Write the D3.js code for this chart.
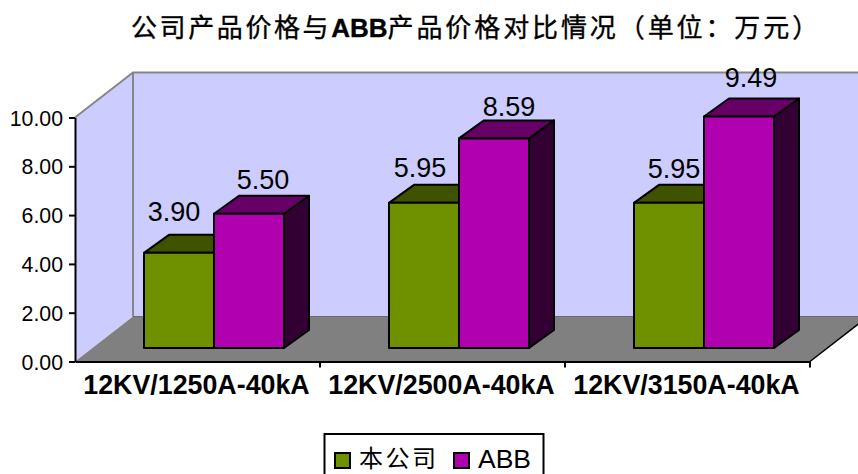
<!DOCTYPE html>
<html><head><meta charset="utf-8">
<script src="https://cdn.jsdelivr.net/npm/d3@7/dist/d3.min.js"></script>
<style>html,body{margin:0;padding:0;background:#fff}svg{display:block}</style>
</head><body><svg id="c" width="858" height="474"></svg>
<script>
const categories=["12KV/1250A-40kA","12KV/2500A-40kA","12KV/3150A-40kA"];
const seriesNames=["本公司","ABB"];
const ours=[3.90,5.95,5.95];
const abb=[5.50,8.59,9.49];
const yTicks=[0,2,4,6,8,10];
const colors=["#6f9100","#b000b0"];
const topColors=["#3f5200","#660066"];
const sideColors=["#2a3600","#330033"];

const svg=d3.select("#c");
const sans="'Liberation Sans',Arial,sans-serif";
const cjk="'Noto Sans CJK SC',sans-serif";
const y=d3.scaleLinear().domain([0,10]).range([361.5,117.5]);
const x=d3.scaleBand().domain(categories).range([75,810]);
const depth={dx:58,dy:-45};
const barDepth={dx:25,dy:-18};
const barLift=13.5, barInset=69, barW=70;
const line=p=>"M"+p.map(q=>q.join(",")).join("L")+"Z";

const xL=x.range()[0],xR=x.range()[1],y0=y(0),yT=y(10);
svg.append("path").attr("d",line([[xL,y0],[xL,yT],[xL+depth.dx,yT+depth.dy],[xL+depth.dx,y0+depth.dy]])).attr("fill","#ccccff");
svg.append("rect").attr("x",xL+depth.dx).attr("y",yT+depth.dy).attr("width",860-xL-depth.dx).attr("height",y0-yT).attr("fill","#ccccff");
svg.append("path").attr("d",line([[xL,y0],[xL+depth.dx,y0+depth.dy],[xR+depth.dx,y0+depth.dy],[xR,y0]])).attr("fill","#808080");
const grey="#868686";
svg.append("path").attr("fill","none").attr("stroke",grey).attr("stroke-width",2)
  .attr("d",`M${xL},${yT}L${xL+depth.dx},${yT+depth.dy}L860,${yT+depth.dy}M${xL+depth.dx},${yT+depth.dy}V${y0+depth.dy}`);
svg.append("path").attr("fill","none").attr("stroke","#6a6a6a").attr("stroke-width",1)
  .attr("d",`M${xL+depth.dx},${y0+depth.dy}H860`);
svg.append("path").attr("fill","none").attr("stroke","#000").attr("stroke-width",1.5)
  .attr("d",`M${xR},${y0}L${xR+depth.dx},${y0+depth.dy}`);

const axY=svg.append("g").attr("transform",`translate(${xL},0)`).call(d3.axisLeft(y).tickValues(yTicks).tickFormat(d3.format(".2f")).tickSize(6).tickSizeOuter(0));
axY.select(".domain").attr("stroke","#000").attr("stroke-width",2);
axY.selectAll("line").attr("stroke","#000").attr("stroke-width",2);
axY.selectAll("text").attr("font-family",sans).attr("font-size",21.3).attr("fill","#000").attr("x",-12).attr("dy","0.36em");

const axX=svg.append("g").attr("transform",`translate(0,${y0})`).call(d3.axisBottom(x).tickValues([]).tickSizeOuter(0));
axX.select(".domain").attr("stroke","#000").attr("stroke-width",2);
svg.append("g").selectAll("line").data(categories).join("line")
  .attr("x1",d=>x(d)+x.bandwidth()).attr("x2",d=>x(d)+x.bandwidth()).attr("y1",y0).attr("y2",y0+6)
  .attr("stroke","#000").attr("stroke-width",2);
svg.append("g").selectAll("text").data(categories).join("text")
  .attr("x",d=>x(d)+x.bandwidth()/2-1).attr("y",394).attr("text-anchor","middle")
  .attr("font-family",sans).attr("font-size",26.8).attr("font-weight","bold").attr("fill","#000").text(d=>d);

const series=[ours,abb];
series.forEach((vals,s)=>{
  const g=svg.append("g");
  vals.forEach((v,i)=>{
    const bx=x(categories[i])+barInset+s*barW, top=y(v)-barLift, bot=y(0)-barLift;
    const dx=barDepth.dx, dy=barDepth.dy;
    const side=line([[bx+barW,top],[bx+barW+dx,top+dy],[bx+barW+dx,bot+dy],[bx+barW,bot]]);
    const roof=line([[bx,top],[bx+dx,top+dy],[bx+barW+dx,top+dy],[bx+barW,top]]);
    const front=line([[bx,top],[bx+barW,top],[bx+barW,bot],[bx,bot]]);
    [[side,sideColors[s]],[roof,topColors[s]],[front,colors[s]]].forEach(([d,f])=>{
      g.append("path").attr("d",d).attr("fill",f).attr("stroke","#000").attr("stroke-width",2).attr("stroke-linejoin","round");
    });
  });
});

// label placement nudges relative to each bar's front-top centre
const nudgeX=[[-5,-4,5],[14,15,12]];
const nudgeY=[[-32,-26,-25],[-25,-22,-29]];
series.forEach((vals,s)=>{
  svg.append("g").selectAll("text").data(vals).join("text")
    .attr("x",(d,i)=>x(categories[i])+barInset+s*barW+barW/2+nudgeX[s][i])
    .attr("y",(d,i)=>y(d)-barLift+nudgeY[s][i])
    .attr("text-anchor","middle").attr("font-family",sans).attr("font-size",27).attr("fill","#000")
    .text(d=>d3.format(".2f")(d));
});

const t=svg.append("text").attr("x",131).attr("y",37).attr("font-size",26).attr("fill","#000").attr("font-family",cjk).attr("stroke","#000").attr("stroke-width",0.35);
t.append("tspan").attr("letter-spacing",2.6).text("公司产品价格与");
t.append("tspan").attr("font-family",sans).attr("font-weight","bold").attr("font-size",26).attr("letter-spacing",0).text("ABB");
t.append("tspan").attr("letter-spacing",2.9).text("产品价格对比情况（单位：万元）");

svg.append("rect").attr("x",324.5).attr("y",434).attr("width",219).attr("height",50).attr("fill","#fff").attr("stroke","#000").attr("stroke-width",2);
const lx=[335,454], tx=[359,478];
seriesNames.forEach((n,i)=>{
  svg.append("rect").attr("x",lx[i]).attr("y",453).attr("width",15).attr("height",15).attr("fill",colors[i]).attr("stroke","#000").attr("stroke-width",2);
  svg.append("text").attr("x",tx[i]).attr("y",i?468:467).attr("font-size",i?26.5:24).attr("letter-spacing",i?0:2.5).attr("font-family",i?sans:cjk).attr("fill","#000").text(n);
});
</script></body></html>
